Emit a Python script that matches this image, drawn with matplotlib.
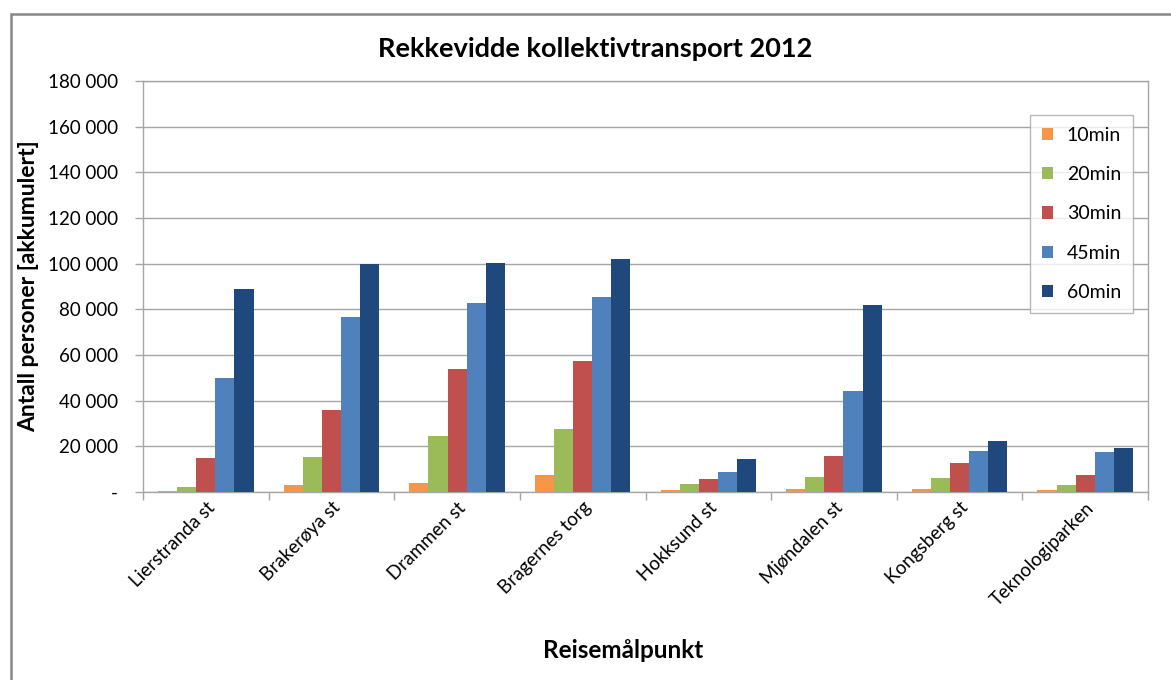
import numpy as np
import matplotlib.pyplot as plt
from matplotlib.ticker import FuncFormatter
from matplotlib.patches import Rectangle

plt.rcParams['font.family'] = ['Lato', 'DejaVu Sans']

# Stops and accumulated number of people reachable within each travel time
stops = ['Lierstranda st', 'Brakerøya st', 'Drammen st', 'Bragernes torg',
         'Hokksund st', 'Mjøndalen st', 'Kongsberg st', 'Teknologiparken']
series_names = ['10min', '20min', '30min', '45min', '60min']
min10 = [400, 3100, 4000, 7600, 900, 1300, 1200, 800]
min20 = [2200, 15200, 24600, 27600, 3500, 6600, 6200, 3100]
min30 = [14800, 35900, 53800, 57300, 5700, 15800, 12700, 7500]
min45 = [49900, 76600, 82700, 85300, 8800, 44200, 17900, 17500]
min60 = [88800, 99800, 100200, 102000, 14400, 81800, 22300, 19300]
colors = ['#F79646', '#9BBB59', '#C0504D', '#4F81BD', '#1F497D']

fig = plt.figure(figsize=(11.71, 6.8), dpi=100)
ax = fig.add_axes([143 / 1171, 1 - 492 / 680, (1148 - 143) / 1171, (492 - 81) / 680])

# outer chart frame (only left and top edges are visible)
fig.patches.append(Rectangle((11 / 1171, -0.1), 1.2, (680 - 14) / 680 + 0.1,
                             transform=fig.transFigure, fill=False,
                             edgecolor='#868686', linewidth=1.8))

x = np.arange(len(stops))
width = 0.152
all_series = [min10, min20, min30, min45, min60]
for i, (vals, name, c) in enumerate(zip(all_series, series_names, colors)):
    ax.bar(x + (i - 2) * width, vals, width, color=c, label=name, zorder=3)

ax.set_xlim(-0.5, len(stops) - 0.5)
ax.set_ylim(0, 180000)
ax.set_yticks(np.arange(0, 180001, 20000))
ax.yaxis.set_major_formatter(FuncFormatter(
    lambda v, p: '-' if v == 0 else f'{int(v):,}'.replace(',', ' ')))
ax.grid(axis='y', color='#a6a6a6', linewidth=1, zorder=0)

ax.set_xticks(np.arange(-0.5, len(stops), 1))
ax.set_xticklabels([])
ax.set_xticks(x, minor=True)
ax.set_xticklabels(stops, minor=True, rotation=45, ha='right',
                   rotation_mode='anchor', fontsize=13.5)
ax.tick_params(axis='x', which='minor', length=0, pad=5)
ax.tick_params(axis='x', which='major', length=6, color='#a6a6a6', width=1)
ax.tick_params(axis='y', length=6, color='#a6a6a6', width=1, labelsize=13.5, pad=12)

for s in ax.spines.values():
    s.set_color('#a6a6a6')
    s.set_linewidth(1)

fig.text(0.508, 1 - 49 / 680, 'Rekkevidde kollektivtransport 2012',
         ha='center', va='center', fontsize=19.5, fontweight='bold')
ax.set_ylabel('Antall personer [akkumulert]', fontsize=16.5, fontweight='bold', labelpad=6)
fig.text(623 / 1171, 1 - 651 / 680, 'Reisemålpunkt', ha='center', va='center',
         fontsize=17.5, fontweight='bold')

leg = ax.legend(loc='upper left', bbox_to_anchor=(1030 / 1171, 1 - 115 / 680),
                bbox_transform=fig.transFigure, frameon=True, fancybox=False,
                borderaxespad=0, fontsize=14, handlelength=0.6, handleheight=0.6,
                labelspacing=1.15, borderpad=0.6, handletextpad=0.7)
leg.get_frame().set_edgecolor('#a6a6a6')
leg.get_frame().set_linewidth(1)

fig.savefig('out.png', dpi=100)
